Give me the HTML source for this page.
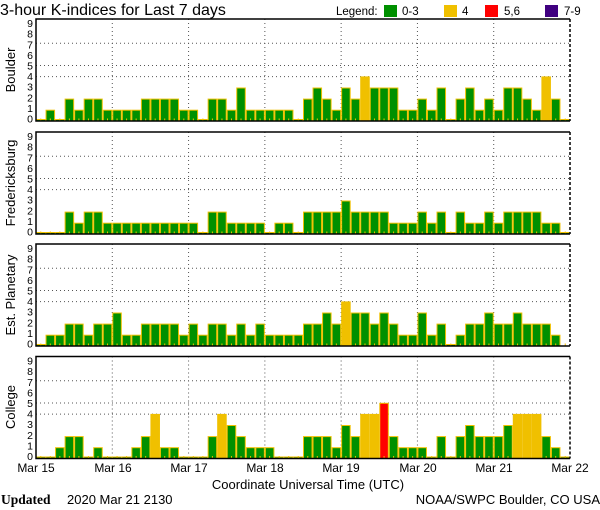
<!DOCTYPE html>
<html><head><meta charset="utf-8"><style>
html,body{margin:0;padding:0;background:#fff;width:600px;height:510px;overflow:hidden}
svg{display:block;font-family:"Liberation Sans",sans-serif}
</style></head><body>
<svg id="s" width="600" height="510" viewBox="0 0 600 510" xmlns="http://www.w3.org/2000/svg">
<text x="0" y="15" font-size="16" fill="#000">3-hour K-indices for Last 7 days</text>
<text x="336" y="15" font-size="11.5" fill="#000">Legend:</text>
<rect x="384" y="5" width="13" height="12" fill="#009000"/><text x="402" y="15" font-size="11.5">0-3</text>
<rect x="444" y="5" width="13" height="12" fill="#f0c000"/><text x="462" y="15" font-size="11.5">4</text>
<rect x="485" y="5" width="13" height="12" fill="#ff0000"/><text x="504" y="15" font-size="11.5">5,6</text>
<rect x="545" y="5" width="13" height="12" fill="#400080"/><text x="564" y="15" font-size="11.5">7-9</text>
<g id="panels"></g>
<text transform="translate(15,70) rotate(-90)" text-anchor="middle" font-size="13">Boulder</text>
<text transform="translate(15,183) rotate(-90)" text-anchor="middle" font-size="13">Fredericksburg</text>
<text transform="translate(15,295) rotate(-90)" text-anchor="middle" font-size="13">Est. Planetary</text>
<text transform="translate(15,407) rotate(-90)" text-anchor="middle" font-size="13">College</text>
<g font-size="12" text-anchor="middle">
<text x="36" y="472">Mar 15</text><text x="113" y="472">Mar 16</text><text x="189" y="472">Mar 17</text><text x="265" y="472">Mar 18</text><text x="341" y="472">Mar 19</text><text x="418" y="472">Mar 20</text><text x="494" y="472">Mar 21</text><text x="570" y="472">Mar 22</text>
</g>
<text x="308" y="489" font-size="13" text-anchor="middle">Coordinate Universal Time (UTC)</text>
<text x="1" y="504" font-size="13.5" font-family="Liberation Serif,serif" font-weight="bold">Updated</text>
<text x="67" y="504" font-size="13">2020 Mar 21 2130</text>
<text x="600" y="504" font-size="13" text-anchor="end">NOAA/SWPC Boulder, CO USA</text>
</svg>
<script>
var data=[
[0,1,0,2,1,2,2,1,1,1,1,2,2,2,2,1,1,0,2,2,1,3,1,1,1,1,1,0,2,3,2,1,3,2,4,3,3,3,1,1,2,1,3,0,2,3,1,2,1,3,3,2,1,4,2,0],
[0,0,0,2,1,2,2,1,1,1,1,1,1,1,1,1,1,0,2,2,1,1,1,1,0,1,1,0,2,2,2,2,3,2,2,2,2,1,1,1,2,1,2,0,2,1,1,2,1,2,2,2,2,1,1,0],
[0,1,1,2,2,1,2,2,3,1,1,2,2,2,2,1,2,1,2,2,1,2,1,2,1,1,1,1,2,2,3,2,4,3,3,2,3,2,1,1,3,1,2,0,1,2,2,3,2,2,3,2,2,2,1,-1],
[0,0,1,2,2,0,1,0,0,0,1,2,4,1,1,0,0,0,2,4,3,2,1,1,1,0,0,0,2,2,2,1,3,2,4,4,5,2,1,1,1,0,2,0,2,3,2,2,2,3,4,4,4,2,1,0]];
var bottoms=[121,234,346,458.5],H=102,L=36,R=570,U=11.1,W=(R-L)/56;
var s='';
for(var p=0;p<4;p++){var b=bottoms[p],t=b-H;
 [4,5,7].forEach(function(k){var y=b-k*U;s+='<line x1="'+L+'" x2="'+R+'" y1="'+y+'" y2="'+y+'" stroke="#555" stroke-dasharray="1,3"/>';});
 for(var d=1;d<7;d++){var x=L+d*W*8;s+='<line x1="'+x+'" x2="'+x+'" y1="'+t+'" y2="'+b+'" stroke="#555" stroke-dasharray="1,3"/>';}
 for(var i=0;i<56;i++){var v=data[p][i];var x=L+i*W;
  if(v>=0){var h=Math.max(1.5,U*v-0.3);var c=v<=3?'#009000':v==4?'#f0c000':v<=6?'#ff0000':'#400080';
  s+='<rect x="'+(x+0.5)+'" y="'+(b-h)+'" width="'+(W-1)+'" height="'+h+'" fill="'+c+'" stroke="#f0c000" stroke-width="1"/>';}
  s+='<line x1="'+(x+W/2)+'" x2="'+(x+W/2)+'" y1="'+b+'" y2="'+(b-2.5)+'" stroke="#f0c000"/>';}
 s+='<polyline points="'+R+','+t+' '+L+','+t+' '+L+','+b+' '+R+','+b+'" fill="none" stroke="#000" stroke-width="1.5"/>';
 s+='<line x1="'+R+'" x2="'+R+'" y1="'+t+'" y2="'+b+'" stroke="#000" stroke-width="1.5" stroke-dasharray="3,2"/>';
 for(var k=0;k<=9;k++){s+='<text x="33" y="'+(b-k*10.6+1.5)+'" font-size="10.5" text-anchor="end">'+k+'</text>';}
}
document.getElementById('panels').innerHTML=s;
</script>
</body></html>
